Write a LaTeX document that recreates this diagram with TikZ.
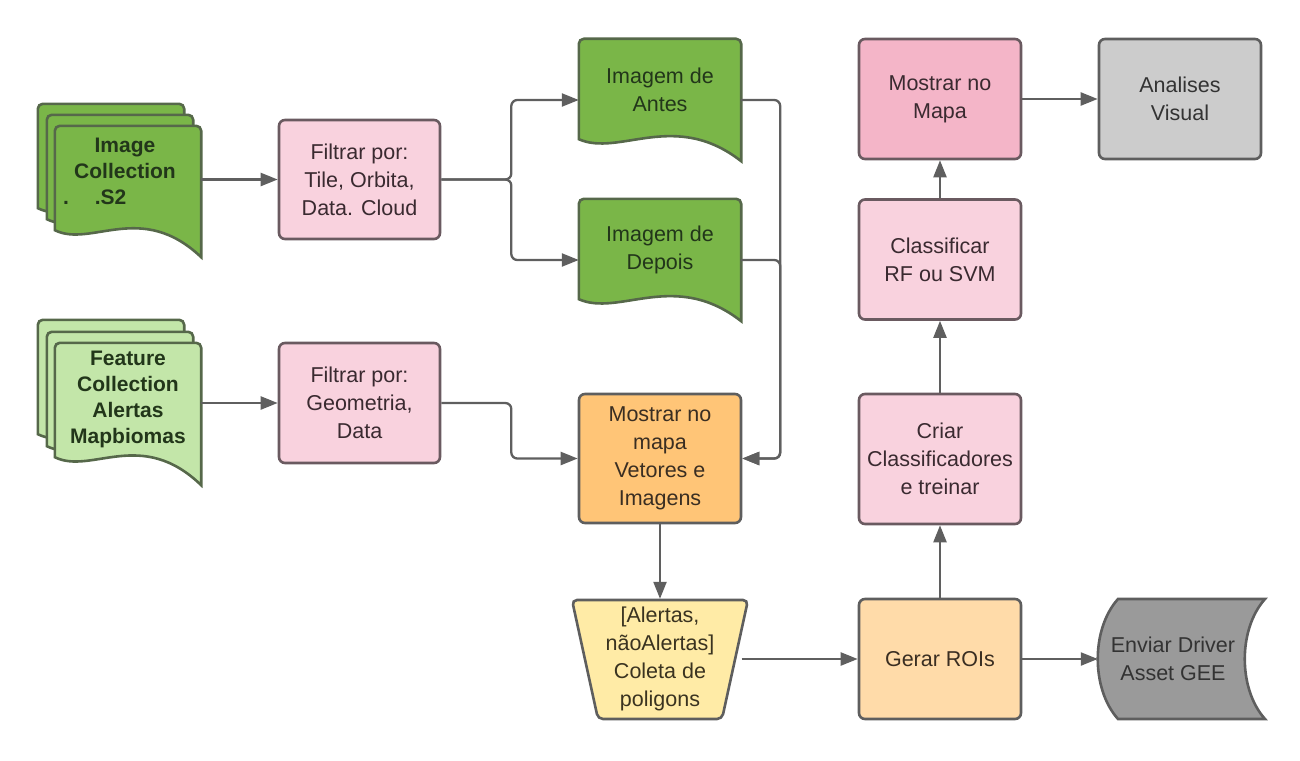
\documentclass[tikz,border=0pt]{standalone}
\usepackage{fontspec}
\setmainfont{Liberation Sans}
\usetikzlibrary{calc,arrows.meta,backgrounds}
\definecolor{grn}{HTML}{7AB648}
\definecolor{lgrn}{HTML}{C3E6A9}
\definecolor{pnk}{HTML}{F9D2DE}
\definecolor{dpnk}{HTML}{F4B5C8}
\definecolor{orng}{HTML}{FFC577}
\definecolor{lorng}{HTML}{FFDBA9}
\definecolor{yelw}{HTML}{FFEBA6}
\definecolor{lgy}{HTML}{CCCCCC}
\definecolor{dgy}{HTML}{9A9A9A}
\definecolor{bd}{HTML}{5E5E5E}
\definecolor{gbd}{HTML}{56684A}
\definecolor{pbd}{HTML}{6A5A60}
\definecolor{ln}{HTML}{5F5F5F}
\definecolor{gtxt}{HTML}{22361A}
\definecolor{ptxt}{HTML}{3A2A30}
\definecolor{otxt}{HTML}{3A2E22}
\definecolor{ytxt}{HTML}{3A3320}
\definecolor{gytxt}{HTML}{333333}

\newcommand\docshape[5]{%
  \draw[#5] ($(#1.south west)+(#2,#3-#4)$) [rounded corners=5pt] -- ($(#1.north west)+(#2,#3)$) -- ($(#1.north east)+(#2,#3)$) [sharp corners] -- ($(#1.south east)+(#2,#3)$) .. controls ($(#1.south west)!0.59!(#1.south east)+(#2,#3-#4-30)$) and ($(#1.south west)!0.25!(#1.south east)+(#2,#3-#4+18)$) .. ($(#1.south west)+(#2,#3-#4)$) -- cycle;}

\tikzset{
  x=1pt, y=-1pt,
  txt/.style={font=\fontsize{21.5}{28}\selectfont, align=center},
  btxt/.style={font=\fontsize{21}{26}\selectfont\bfseries, align=center, text=gtxt},
  box/.style={txt, draw, line width=2.6pt, rounded corners=6pt, minimum width=162pt, minimum height=120pt, inner sep=0pt},
  pinkbox/.style={box, fill=pnk, draw=pbd, text=ptxt},
  ghost/.style={inner sep=0pt, minimum width=#1},
  gfill/.style={fill=grn, draw=gbd, line width=2.6pt},
  lgfill/.style={fill=lgrn, draw=gbd, line width=2.6pt},
  conn/.style={draw=ln, line width=2.3pt, rounded corners=6pt},
  arr/.style={conn, -{Triangle[length=17pt,width=13pt]}}
}

\begin{document}
\begin{tikzpicture}
\useasboundingbox (0,0) rectangle (1300,760);

% document-shaped nodes
\node[ghost=146pt, minimum height=131pt, label={[btxt, yshift=20pt, xshift=-3pt]center:{Image\\Collection\\\makebox[124pt][l]{.\hspace{26pt}.S2}}}] (imgc) at (128,191.5) {};
\node[ghost=146pt, minimum height=142pt, label={[btxt, yshift=15pt]center:{Feature\\Collection\\Alertas\\Mapbiomas}}] (fc) at (128,414) {};
\node[ghost=162pt, minimum height=122pt, label={[txt, text=gtxt, yshift=10.5pt]center:{Imagem de\\Antes}}] (ant) at (660,100) {};
\node[ghost=162pt, minimum height=122pt, label={[txt, text=gtxt, yshift=10.5pt]center:{Imagem de\\Depois}}] (dep) at (660,260) {};

\begin{scope}[on background layer]
  \docshape{imgc}{-17}{-22}{27}{gfill}
  \docshape{imgc}{-8}{-11}{27}{gfill}
  \docshape{imgc}{0}{0}{27}{gfill}
  \docshape{fc}{-17}{-23}{28}{lgfill}
  \docshape{fc}{-8}{-11}{28}{lgfill}
  \docshape{fc}{0}{0}{28}{lgfill}
  \docshape{ant}{0}{0}{22}{gfill}
  \docshape{dep}{0}{0}{22}{gfill}
\end{scope}

% boxes
\node[pinkbox, minimum width=161pt, minimum height=119pt] (f1) at (359.5,179.5) {Filtrar por:\\Tile, Orbita,\\Data. Cloud};
\node[pinkbox, minimum width=161pt] (f2) at (359.5,403) {Filtrar por:\\Geometria,\\Data};
\node[box, fill=orng, draw=bd, text=otxt, minimum height=129pt] (mv) at (660,458.5) {Mostrar no\\mapa\\Vetores e\\Imagens};
\node[box, fill=lorng, draw=bd, text=otxt] (gr) at (940,659) {Gerar ROIs};
\node[pinkbox, minimum height=130pt] (cc) at (940,459) {Criar\\Classificadores\\e treinar};
\node[pinkbox] (cl) at (940,259.5) {Classificar\\RF ou SVM};
\node[pinkbox, fill=dpnk] (mm) at (940,99) {Mostrar no\\Mapa};
\node[box, fill=lgy, draw=bd, text=gytxt] (an) at (1180,99) {Analises\\Visual};

% trapezoid
\node[txt, text=ytxt, ghost=163pt, minimum height=120pt] (tr) at (660,659) {[Alertas,\\nãoAlertas]\\Coleta de\\poligons};
\begin{scope}[on background layer]
  \draw[fill=yelw, draw=bd, line width=2.6pt, rounded corners=5pt]
    ($(tr.center)+(-88,-59)$) -- ($(tr.center)+(88,-59)$) -- ($(tr.center)+(62,60)$) -- ($(tr.center)+(-62,60)$) -- cycle;
\end{scope}

% stored data
\node[txt, text=gytxt, ghost=150pt, minimum height=120pt] (en) at (1173,659) {Enviar Driver\\Asset GEE};
\begin{scope}[on background layer]
  \draw[fill=dgy, draw=bd, line width=2.6pt]
    ($(en.center)+(-55,-60)$) -- ($(en.center)+(92,-60)$)
    .. controls ($(en.center)+(65,-30)$) and ($(en.center)+(65,30)$) .. ($(en.center)+(92,60)$)
    -- ($(en.center)+(-55,60)$)
    .. controls ($(en.center)+(-82,30)$) and ($(en.center)+(-82,-30)$) .. cycle;
\end{scope}

% connectors
\draw[arr] (imgc.east |- f1.west) -- (f1.west);
\draw[arr] (fc.east |- f2.west) -- (f2.west);
\draw[arr] (f1.east) -- ++(70,0) |- (ant.west);
\draw[arr] (f1.east) -- ++(70,0) |- (dep.west);
\draw[arr] (f2.east) -- ++(70,0) |- (mv.west);
\draw[arr] (ant.east) -- ++(39,0) |- (mv.east);
\draw[arr] (dep.east) -- ++(39,0) |- (mv.east);
\draw[arr] (mv.south) -- (tr.north);
\draw[arr] (tr.east) -- (gr.west);
\draw[arr] (gr.east) -- (en.west);
\draw[arr] (gr.north) -- (cc.south);
\draw[arr] (cc.north) -- (cl.south);
\draw[arr] (cl.north) -- (mm.south);
\draw[arr] (mm.east) -- (an.west);
\end{tikzpicture}
\end{document}
